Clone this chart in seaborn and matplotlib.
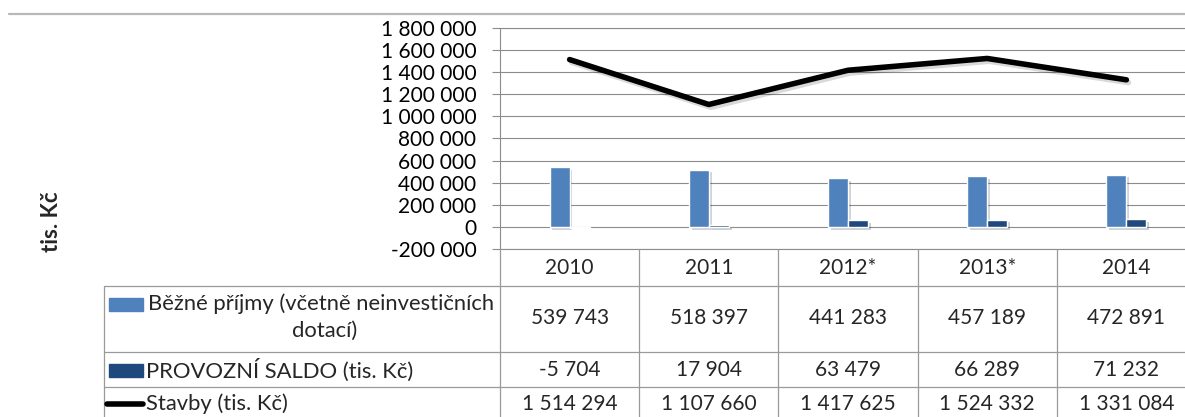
import numpy as np
import pandas as pd
import seaborn as sns
import matplotlib.pyplot as plt
import matplotlib.patheffects as pe
from matplotlib.ticker import FuncFormatter

years = ["2010", "2011", "2012*", "2013*", "2014"]
prijmy = [539743, 518397, 441283, 457189, 472891]
saldo = [-5704, 17904, 63479, 66289, 71232]
stavby = [1514294, 1107660, 1417625, 1524332, 1331084]

names = ["Běžné příjmy (včetně neinvestičních dotací)",
         "PROVOZNÍ SALDO (tis. Kč)",
         "Stavby (tis. Kč)"]
colors = ["#4F81BD", "#1F497D", "#000000"]

df = pd.DataFrame({
    "rok": years * 2,
    "serie": [names[0]] * len(years) + [names[1]] * len(years),
    "hodnota": prijmy + saldo,
})


def fmt(v):
    return f"{v:,.0f}".replace(",", " ")


sns.set_style("white")
plt.rcParams["font.family"] = ["Lato", "DejaVu Sans"]

W, H = 1185, 417
fig = plt.figure(figsize=(W / 100, H / 100), dpi=100)


def px(x0, y0, x1, y1):
    return [x0 / W, 1 - y1 / H, (x1 - x0) / W, (y1 - y0) / H]


grid_c = "#8c8c8c"
ax = fig.add_axes(px(500, 28, 1196, 249))
sns.barplot(data=df, x="rok", y="hodnota", hue="serie", palette=colors[:2],
            width=0.288, gap=0, dodge=True, saturation=1, errorbar=None,
            legend=False, ax=ax, zorder=3)
for p in ax.patches:
    p.set_path_effects([pe.SimplePatchShadow(offset=(2, -2), alpha=0.2), pe.Normal()])

sns.lineplot(x=np.arange(len(years)), y=stavby, color=colors[2], lw=4.0,
             solid_capstyle="round", ax=ax, zorder=4,
             path_effects=[pe.SimpleLineShadow(offset=(1.5, -2), alpha=0.15), pe.Normal()])

ax.set_xlim(-0.5, len(years) - 0.5)
ax.set_ylim(-200000, 1800000)
ax.set_yticks(np.arange(-200000, 1800001, 200000))
ax.yaxis.set_major_formatter(FuncFormatter(lambda v, _: fmt(v)))
ax.set_xticks([])
ax.set_xlabel("")
ax.set_ylabel("")
ax.grid(axis="y", color=grid_c, lw=0.8)
ax.set_axisbelow(True)
for s in ax.spines.values():
    s.set_color(grid_c)
    s.set_linewidth(0.8)
ax.tick_params(axis="y", left=True, length=6, width=0.8, color=grid_c,
               pad=11, labelsize=15, labelcolor="#000000")

# overlay in pixel coordinates for the data table
ov = fig.add_axes([0, 0, 1, 1])
ov.set_xlim(0, W)
ov.set_ylim(H, 0)
ov.axis("off")

centers = [ax.transData.transform((i, 0))[0] for i in range(len(years))]
edges = [ax.transData.transform((i - 0.5, 0))[0] for i in range(len(years) + 1)]
y_top = H - ax.transData.transform((0, -200000))[1]

line_c = "#9a9a9a"
ov.plot([9, W], [14, 14], color="#b8b8b8", lw=1.6)
for e in edges:
    ov.plot([e, e], [y_top, H], color=line_c, lw=0.9)
rows = [286, 352, 387]
for r in rows:
    ov.plot([104, W], [r, r], color=line_c, lw=0.9)
ov.plot([104, 104], [286, H], color=line_c, lw=0.9)

fs = 15
for c, y in zip(centers, years):
    ov.text(c, 268, y, ha="center", va="center", fontsize=fs)
row_y = [318, 370, 404]
for vals, ry in zip([prijmy, saldo, stavby], row_y):
    for c, v in zip(centers, vals):
        ov.text(c, ry, fmt(v), ha="center", va="center", fontsize=fs)

# legend keys + row labels
lfs = 15.8
ov.add_patch(plt.Rectangle((109, 298), 34, 13, color=colors[0]))
ov.add_patch(plt.Rectangle((109, 364), 34, 13, color=colors[1]))
ov.plot([107, 143], [404, 404], color=colors[2], lw=4.0, solid_capstyle="round")
ov.text(148, 304, "Běžné příjmy (včetně neinvestičních", ha="left", va="center", fontsize=lfs)
ov.text(325, 331, "dotací)", ha="center", va="center", fontsize=lfs)
ov.text(146, 370, names[1], ha="left", va="center", fontsize=lfs)
ov.text(146, 404, names[2], ha="left", va="center", fontsize=lfs)

ov.text(52, 222, "tis. Kč", rotation=90, ha="center", va="center",
        fontsize=16, fontweight="bold")

fig.savefig("out.png", dpi=100)
